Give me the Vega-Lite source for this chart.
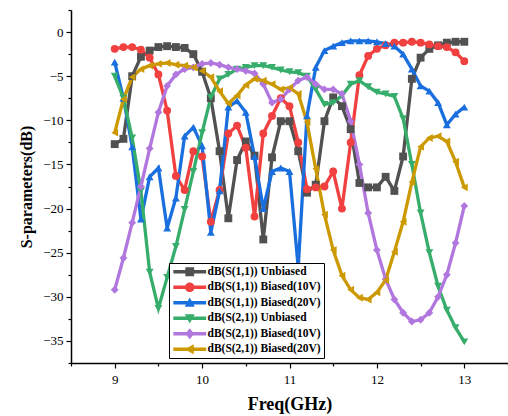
{
  "$schema": "https://vega.github.io/schema/vega-lite/v6.json",
  "width": 437,
  "height": 353,
  "autosize": {"type": "none"},
  "padding": {"left": 71, "top": 10, "right": 0, "bottom": 53},
  "background": "white",
  "config": {
    "view": {"stroke": null},
    "axis": {
      "labelFont": "Liberation Serif",
      "labelFontSize": 13,
      "labelColor": "black",
      "titleFont": "Liberation Serif",
      "titleFontWeight": "bold",
      "titleColor": "black",
      "domainColor": "black",
      "domainWidth": 1.5,
      "tickColor": "black",
      "tickWidth": 1.2,
      "grid": false
    }
  },
  "datasets": {
    "s": [
      {"series":"dB(S(1,1)) Unbiased","f":9.0,"dB":-12.7},{"series":"dB(S(1,1)) Unbiased","f":9.1,"dB":-12.1},{"series":"dB(S(1,1)) Unbiased","f":9.2,"dB":-5.0},{"series":"dB(S(1,1)) Unbiased","f":9.3,"dB":-2.8},{"series":"dB(S(1,1)) Unbiased","f":9.4,"dB":-2.1},{"series":"dB(S(1,1)) Unbiased","f":9.5,"dB":-1.7},{"series":"dB(S(1,1)) Unbiased","f":9.6,"dB":-1.6},{"series":"dB(S(1,1)) Unbiased","f":9.7,"dB":-1.7},{"series":"dB(S(1,1)) Unbiased","f":9.8,"dB":-1.8},{"series":"dB(S(1,1)) Unbiased","f":9.9,"dB":-2.5},
      {"series":"dB(S(1,1)) Unbiased","f":10.0,"dB":-4.5},{"series":"dB(S(1,1)) Unbiased","f":10.1,"dB":-7.5},{"series":"dB(S(1,1)) Unbiased","f":10.2,"dB":-13.5},{"series":"dB(S(1,1)) Unbiased","f":10.3,"dB":-21.1},{"series":"dB(S(1,1)) Unbiased","f":10.4,"dB":-14.5},{"series":"dB(S(1,1)) Unbiased","f":10.5,"dB":-12.4},{"series":"dB(S(1,1)) Unbiased","f":10.6,"dB":-14.0},{"series":"dB(S(1,1)) Unbiased","f":10.7,"dB":-23.5},{"series":"dB(S(1,1)) Unbiased","f":10.8,"dB":-14.2},{"series":"dB(S(1,1)) Unbiased","f":10.9,"dB":-10.1},
      {"series":"dB(S(1,1)) Unbiased","f":11.0,"dB":-10.1},{"series":"dB(S(1,1)) Unbiased","f":11.1,"dB":-13.5},{"series":"dB(S(1,1)) Unbiased","f":11.2,"dB":-18.2},{"series":"dB(S(1,1)) Unbiased","f":11.3,"dB":-17.3},{"series":"dB(S(1,1)) Unbiased","f":11.4,"dB":-10.1},{"series":"dB(S(1,1)) Unbiased","f":11.5,"dB":-7.4},{"series":"dB(S(1,1)) Unbiased","f":11.6,"dB":-8.4},{"series":"dB(S(1,1)) Unbiased","f":11.7,"dB":-11.0},{"series":"dB(S(1,1)) Unbiased","f":11.8,"dB":-17.1},{"series":"dB(S(1,1)) Unbiased","f":11.9,"dB":-17.6},
      {"series":"dB(S(1,1)) Unbiased","f":12.0,"dB":-17.6},{"series":"dB(S(1,1)) Unbiased","f":12.1,"dB":-16.4},{"series":"dB(S(1,1)) Unbiased","f":12.2,"dB":-18.0},{"series":"dB(S(1,1)) Unbiased","f":12.3,"dB":-14.1},{"series":"dB(S(1,1)) Unbiased","f":12.4,"dB":-5.3},{"series":"dB(S(1,1)) Unbiased","f":12.5,"dB":-2.9},{"series":"dB(S(1,1)) Unbiased","f":12.6,"dB":-1.9},{"series":"dB(S(1,1)) Unbiased","f":12.7,"dB":-1.5},{"series":"dB(S(1,1)) Unbiased","f":12.8,"dB":-1.2},{"series":"dB(S(1,1)) Unbiased","f":12.9,"dB":-1.1},{"series":"dB(S(1,1)) Unbiased","f":13.0,"dB":-1.1},

      {"series":"dB(S(1,1)) Biased(10V)","f":9.0,"dB":-1.9},{"series":"dB(S(1,1)) Biased(10V)","f":9.1,"dB":-1.7},{"series":"dB(S(1,1)) Biased(10V)","f":9.2,"dB":-1.7},{"series":"dB(S(1,1)) Biased(10V)","f":9.3,"dB":-2.0},{"series":"dB(S(1,1)) Biased(10V)","f":9.4,"dB":-2.9},{"series":"dB(S(1,1)) Biased(10V)","f":9.5,"dB":-4.8},{"series":"dB(S(1,1)) Biased(10V)","f":9.6,"dB":-8.9},{"series":"dB(S(1,1)) Biased(10V)","f":9.7,"dB":-16.3},{"series":"dB(S(1,1)) Biased(10V)","f":9.8,"dB":-17.9},{"series":"dB(S(1,1)) Biased(10V)","f":9.9,"dB":-13.5},
      {"series":"dB(S(1,1)) Biased(10V)","f":10.0,"dB":-14.1},{"series":"dB(S(1,1)) Biased(10V)","f":10.1,"dB":-21.5},{"series":"dB(S(1,1)) Biased(10V)","f":10.2,"dB":-17.9},{"series":"dB(S(1,1)) Biased(10V)","f":10.3,"dB":-11.5},{"series":"dB(S(1,1)) Biased(10V)","f":10.4,"dB":-10.6},{"series":"dB(S(1,1)) Biased(10V)","f":10.5,"dB":-13.1},{"series":"dB(S(1,1)) Biased(10V)","f":10.6,"dB":-20.9},{"series":"dB(S(1,1)) Biased(10V)","f":10.7,"dB":-11.5},{"series":"dB(S(1,1)) Biased(10V)","f":10.8,"dB":-9.5},{"series":"dB(S(1,1)) Biased(10V)","f":10.9,"dB":-7.5},
      {"series":"dB(S(1,1)) Biased(10V)","f":11.0,"dB":-8.4},{"series":"dB(S(1,1)) Biased(10V)","f":11.1,"dB":-12.5},{"series":"dB(S(1,1)) Biased(10V)","f":11.2,"dB":-17.8},{"series":"dB(S(1,1)) Biased(10V)","f":11.3,"dB":-17.6},{"series":"dB(S(1,1)) Biased(10V)","f":11.4,"dB":-17.5},{"series":"dB(S(1,1)) Biased(10V)","f":11.5,"dB":-15.8},{"series":"dB(S(1,1)) Biased(10V)","f":11.6,"dB":-20.0},{"series":"dB(S(1,1)) Biased(10V)","f":11.7,"dB":-12.5},{"series":"dB(S(1,1)) Biased(10V)","f":11.8,"dB":-4.9},{"series":"dB(S(1,1)) Biased(10V)","f":11.9,"dB":-2.7},
      {"series":"dB(S(1,1)) Biased(10V)","f":12.0,"dB":-1.9},{"series":"dB(S(1,1)) Biased(10V)","f":12.1,"dB":-1.5},{"series":"dB(S(1,1)) Biased(10V)","f":12.2,"dB":-1.2},{"series":"dB(S(1,1)) Biased(10V)","f":12.3,"dB":-1.2},{"series":"dB(S(1,1)) Biased(10V)","f":12.4,"dB":-1.1},{"series":"dB(S(1,1)) Biased(10V)","f":12.5,"dB":-1.2},{"series":"dB(S(1,1)) Biased(10V)","f":12.6,"dB":-1.4},{"series":"dB(S(1,1)) Biased(10V)","f":12.7,"dB":-1.6},{"series":"dB(S(1,1)) Biased(10V)","f":12.8,"dB":-1.7},{"series":"dB(S(1,1)) Biased(10V)","f":12.9,"dB":-2.3},{"series":"dB(S(1,1)) Biased(10V)","f":13.0,"dB":-3.3},

      {"series":"dB(S(1,1)) Biased(20V)","f":9.0,"dB":-3.4},{"series":"dB(S(1,1)) Biased(20V)","f":9.1,"dB":-7.5},{"series":"dB(S(1,1)) Biased(20V)","f":9.2,"dB":-13.0},{"series":"dB(S(1,1)) Biased(20V)","f":9.3,"dB":-21.2},{"series":"dB(S(1,1)) Biased(20V)","f":9.4,"dB":-16.4},{"series":"dB(S(1,1)) Biased(20V)","f":9.5,"dB":-15.4},{"series":"dB(S(1,1)) Biased(20V)","f":9.6,"dB":-22.2},{"series":"dB(S(1,1)) Biased(20V)","f":9.7,"dB":-18.8},{"series":"dB(S(1,1)) Biased(20V)","f":9.8,"dB":-11.8},{"series":"dB(S(1,1)) Biased(20V)","f":9.9,"dB":-10.8},
      {"series":"dB(S(1,1)) Biased(20V)","f":10.0,"dB":-12.9},{"series":"dB(S(1,1)) Biased(20V)","f":10.1,"dB":-22.7},{"series":"dB(S(1,1)) Biased(20V)","f":10.2,"dB":-18.0},{"series":"dB(S(1,1)) Biased(20V)","f":10.3,"dB":-8.5},{"series":"dB(S(1,1)) Biased(20V)","f":10.4,"dB":-7.8},{"series":"dB(S(1,1)) Biased(20V)","f":10.5,"dB":-9.1},{"series":"dB(S(1,1)) Biased(20V)","f":10.6,"dB":-14.1},{"series":"dB(S(1,1)) Biased(20V)","f":10.7,"dB":-20.0},{"series":"dB(S(1,1)) Biased(20V)","f":10.8,"dB":-15.8},{"series":"dB(S(1,1)) Biased(20V)","f":10.9,"dB":-15.4},
      {"series":"dB(S(1,1)) Biased(20V)","f":11.0,"dB":-15.8},{"series":"dB(S(1,1)) Biased(20V)","f":11.1,"dB":-26.7},{"series":"dB(S(1,1)) Biased(20V)","f":11.2,"dB":-9.5},{"series":"dB(S(1,1)) Biased(20V)","f":11.3,"dB":-4.0},{"series":"dB(S(1,1)) Biased(20V)","f":11.4,"dB":-2.1},{"series":"dB(S(1,1)) Biased(20V)","f":11.5,"dB":-1.6},{"series":"dB(S(1,1)) Biased(20V)","f":11.6,"dB":-1.2},{"series":"dB(S(1,1)) Biased(20V)","f":11.7,"dB":-1.0},{"series":"dB(S(1,1)) Biased(20V)","f":11.8,"dB":-1.0},{"series":"dB(S(1,1)) Biased(20V)","f":11.9,"dB":-1.0},
      {"series":"dB(S(1,1)) Biased(20V)","f":12.0,"dB":-1.1},{"series":"dB(S(1,1)) Biased(20V)","f":12.1,"dB":-1.3},{"series":"dB(S(1,1)) Biased(20V)","f":12.2,"dB":-1.6},{"series":"dB(S(1,1)) Biased(20V)","f":12.3,"dB":-2.5},{"series":"dB(S(1,1)) Biased(20V)","f":12.4,"dB":-4.2},{"series":"dB(S(1,1)) Biased(20V)","f":12.5,"dB":-6.1},{"series":"dB(S(1,1)) Biased(20V)","f":12.6,"dB":-6.7},{"series":"dB(S(1,1)) Biased(20V)","f":12.7,"dB":-8.0},{"series":"dB(S(1,1)) Biased(20V)","f":12.8,"dB":-10.5},{"series":"dB(S(1,1)) Biased(20V)","f":12.9,"dB":-9.3},{"series":"dB(S(1,1)) Biased(20V)","f":13.0,"dB":-8.5},

      {"series":"dB(S(2,1)) Unbiased","f":9.0,"dB":-5.0},{"series":"dB(S(2,1)) Unbiased","f":9.1,"dB":-7.5},{"series":"dB(S(2,1)) Unbiased","f":9.2,"dB":-12.0},{"series":"dB(S(2,1)) Unbiased","f":9.3,"dB":-18.0},{"series":"dB(S(2,1)) Unbiased","f":9.4,"dB":-27.2},{"series":"dB(S(2,1)) Unbiased","f":9.5,"dB":-31.3},{"series":"dB(S(2,1)) Unbiased","f":9.6,"dB":-27.8},{"series":"dB(S(2,1)) Unbiased","f":9.7,"dB":-24.3},{"series":"dB(S(2,1)) Unbiased","f":9.8,"dB":-20.1},{"series":"dB(S(2,1)) Unbiased","f":9.9,"dB":-15.8},
      {"series":"dB(S(2,1)) Unbiased","f":10.0,"dB":-11.4},{"series":"dB(S(2,1)) Unbiased","f":10.1,"dB":-7.4},{"series":"dB(S(2,1)) Unbiased","f":10.2,"dB":-5.3},{"series":"dB(S(2,1)) Unbiased","f":10.3,"dB":-4.8},{"series":"dB(S(2,1)) Unbiased","f":10.4,"dB":-4.2},{"series":"dB(S(2,1)) Unbiased","f":10.5,"dB":-4.0},{"series":"dB(S(2,1)) Unbiased","f":10.6,"dB":-3.8},{"series":"dB(S(2,1)) Unbiased","f":10.7,"dB":-3.8},{"series":"dB(S(2,1)) Unbiased","f":10.8,"dB":-4.0},{"series":"dB(S(2,1)) Unbiased","f":10.9,"dB":-4.3},
      {"series":"dB(S(2,1)) Unbiased","f":11.0,"dB":-4.5},{"series":"dB(S(2,1)) Unbiased","f":11.1,"dB":-4.6},{"series":"dB(S(2,1)) Unbiased","f":11.2,"dB":-5.0},{"series":"dB(S(2,1)) Unbiased","f":11.3,"dB":-6.5},{"series":"dB(S(2,1)) Unbiased","f":11.4,"dB":-8.2},{"series":"dB(S(2,1)) Unbiased","f":11.5,"dB":-8.0},{"series":"dB(S(2,1)) Unbiased","f":11.6,"dB":-7.2},{"series":"dB(S(2,1)) Unbiased","f":11.7,"dB":-5.9},{"series":"dB(S(2,1)) Unbiased","f":11.8,"dB":-5.5},{"series":"dB(S(2,1)) Unbiased","f":11.9,"dB":-6.2},
      {"series":"dB(S(2,1)) Unbiased","f":12.0,"dB":-6.8},{"series":"dB(S(2,1)) Unbiased","f":12.1,"dB":-7.0},{"series":"dB(S(2,1)) Unbiased","f":12.2,"dB":-7.3},{"series":"dB(S(2,1)) Unbiased","f":12.3,"dB":-9.8},{"series":"dB(S(2,1)) Unbiased","f":12.4,"dB":-15.0},{"series":"dB(S(2,1)) Unbiased","f":12.5,"dB":-20.5},{"series":"dB(S(2,1)) Unbiased","f":12.6,"dB":-25.0},{"series":"dB(S(2,1)) Unbiased","f":12.7,"dB":-28.8},{"series":"dB(S(2,1)) Unbiased","f":12.8,"dB":-31.5},{"series":"dB(S(2,1)) Unbiased","f":12.9,"dB":-33.5},{"series":"dB(S(2,1)) Unbiased","f":13.0,"dB":-35.1},

      {"series":"dB(S(2,1)) Biased(10V)","f":9.0,"dB":-29.2},{"series":"dB(S(2,1)) Biased(10V)","f":9.1,"dB":-25.6},{"series":"dB(S(2,1)) Biased(10V)","f":9.2,"dB":-21.6},{"series":"dB(S(2,1)) Biased(10V)","f":9.3,"dB":-17.5},{"series":"dB(S(2,1)) Biased(10V)","f":9.4,"dB":-13.2},{"series":"dB(S(2,1)) Biased(10V)","f":9.5,"dB":-9.1},{"series":"dB(S(2,1)) Biased(10V)","f":9.6,"dB":-6.1},{"series":"dB(S(2,1)) Biased(10V)","f":9.7,"dB":-4.8},{"series":"dB(S(2,1)) Biased(10V)","f":9.8,"dB":-4.2},{"series":"dB(S(2,1)) Biased(10V)","f":9.9,"dB":-4.0},
      {"series":"dB(S(2,1)) Biased(10V)","f":10.0,"dB":-3.6},{"series":"dB(S(2,1)) Biased(10V)","f":10.1,"dB":-3.5},{"series":"dB(S(2,1)) Biased(10V)","f":10.2,"dB":-3.7},{"series":"dB(S(2,1)) Biased(10V)","f":10.3,"dB":-4.0},{"series":"dB(S(2,1)) Biased(10V)","f":10.4,"dB":-4.2},{"series":"dB(S(2,1)) Biased(10V)","f":10.5,"dB":-4.4},{"series":"dB(S(2,1)) Biased(10V)","f":10.6,"dB":-4.7},{"series":"dB(S(2,1)) Biased(10V)","f":10.7,"dB":-5.9},{"series":"dB(S(2,1)) Biased(10V)","f":10.8,"dB":-8.0},{"series":"dB(S(2,1)) Biased(10V)","f":10.9,"dB":-7.6},
      {"series":"dB(S(2,1)) Biased(10V)","f":11.0,"dB":-6.5},{"series":"dB(S(2,1)) Biased(10V)","f":11.1,"dB":-5.5},{"series":"dB(S(2,1)) Biased(10V)","f":11.2,"dB":-5.1},{"series":"dB(S(2,1)) Biased(10V)","f":11.3,"dB":-5.9},{"series":"dB(S(2,1)) Biased(10V)","f":11.4,"dB":-6.5},{"series":"dB(S(2,1)) Biased(10V)","f":11.5,"dB":-6.5},{"series":"dB(S(2,1)) Biased(10V)","f":11.6,"dB":-7.0},{"series":"dB(S(2,1)) Biased(10V)","f":11.7,"dB":-10.1},{"series":"dB(S(2,1)) Biased(10V)","f":11.8,"dB":-15.0},{"series":"dB(S(2,1)) Biased(10V)","f":11.9,"dB":-20.5},
      {"series":"dB(S(2,1)) Biased(10V)","f":12.0,"dB":-24.7},{"series":"dB(S(2,1)) Biased(10V)","f":12.1,"dB":-28.0},{"series":"dB(S(2,1)) Biased(10V)","f":12.2,"dB":-30.3},{"series":"dB(S(2,1)) Biased(10V)","f":12.3,"dB":-31.8},{"series":"dB(S(2,1)) Biased(10V)","f":12.4,"dB":-32.8},{"series":"dB(S(2,1)) Biased(10V)","f":12.5,"dB":-32.6},{"series":"dB(S(2,1)) Biased(10V)","f":12.6,"dB":-31.8},{"series":"dB(S(2,1)) Biased(10V)","f":12.7,"dB":-30.0},{"series":"dB(S(2,1)) Biased(10V)","f":12.8,"dB":-27.5},{"series":"dB(S(2,1)) Biased(10V)","f":12.9,"dB":-23.9},{"series":"dB(S(2,1)) Biased(10V)","f":13.0,"dB":-19.7},

      {"series":"dB(S(2,1)) Biased(20V)","f":9.0,"dB":-11.4},{"series":"dB(S(2,1)) Biased(20V)","f":9.1,"dB":-7.6},{"series":"dB(S(2,1)) Biased(20V)","f":9.2,"dB":-5.1},{"series":"dB(S(2,1)) Biased(20V)","f":9.3,"dB":-4.2},{"series":"dB(S(2,1)) Biased(20V)","f":9.4,"dB":-3.8},{"series":"dB(S(2,1)) Biased(20V)","f":9.5,"dB":-3.6},{"series":"dB(S(2,1)) Biased(20V)","f":9.6,"dB":-3.5},{"series":"dB(S(2,1)) Biased(20V)","f":9.7,"dB":-3.7},{"series":"dB(S(2,1)) Biased(20V)","f":9.8,"dB":-3.8},{"series":"dB(S(2,1)) Biased(20V)","f":9.9,"dB":-4.0},
      {"series":"dB(S(2,1)) Biased(20V)","f":10.0,"dB":-4.4},{"series":"dB(S(2,1)) Biased(20V)","f":10.1,"dB":-5.1},{"series":"dB(S(2,1)) Biased(20V)","f":10.2,"dB":-6.7},{"series":"dB(S(2,1)) Biased(20V)","f":10.3,"dB":-8.1},{"series":"dB(S(2,1)) Biased(20V)","f":10.4,"dB":-7.2},{"series":"dB(S(2,1)) Biased(20V)","f":10.5,"dB":-6.0},{"series":"dB(S(2,1)) Biased(20V)","f":10.6,"dB":-5.3},{"series":"dB(S(2,1)) Biased(20V)","f":10.7,"dB":-5.5},{"series":"dB(S(2,1)) Biased(20V)","f":10.8,"dB":-5.9},{"series":"dB(S(2,1)) Biased(20V)","f":10.9,"dB":-6.5},
      {"series":"dB(S(2,1)) Biased(20V)","f":11.0,"dB":-6.3},{"series":"dB(S(2,1)) Biased(20V)","f":11.1,"dB":-7.0},{"series":"dB(S(2,1)) Biased(20V)","f":11.2,"dB":-10.2},{"series":"dB(S(2,1)) Biased(20V)","f":11.3,"dB":-15.5},{"series":"dB(S(2,1)) Biased(20V)","f":11.4,"dB":-20.7},{"series":"dB(S(2,1)) Biased(20V)","f":11.5,"dB":-24.7},{"series":"dB(S(2,1)) Biased(20V)","f":11.6,"dB":-27.6},{"series":"dB(S(2,1)) Biased(20V)","f":11.7,"dB":-29.2},{"series":"dB(S(2,1)) Biased(20V)","f":11.8,"dB":-30.1},{"series":"dB(S(2,1)) Biased(20V)","f":11.9,"dB":-30.3},
      {"series":"dB(S(2,1)) Biased(20V)","f":12.0,"dB":-29.5},{"series":"dB(S(2,1)) Biased(20V)","f":12.1,"dB":-28.1},{"series":"dB(S(2,1)) Biased(20V)","f":12.2,"dB":-24.9},{"series":"dB(S(2,1)) Biased(20V)","f":12.3,"dB":-21.5},{"series":"dB(S(2,1)) Biased(20V)","f":12.4,"dB":-17.0},{"series":"dB(S(2,1)) Biased(20V)","f":12.5,"dB":-13.0},{"series":"dB(S(2,1)) Biased(20V)","f":12.6,"dB":-12.0},{"series":"dB(S(2,1)) Biased(20V)","f":12.7,"dB":-11.8},{"series":"dB(S(2,1)) Biased(20V)","f":12.8,"dB":-12.4},{"series":"dB(S(2,1)) Biased(20V)","f":12.9,"dB":-14.7},{"series":"dB(S(2,1)) Biased(20V)","f":13.0,"dB":-17.6}
    ]
  },
  "data": {"name": "s"},
  "encoding": {
    "x": {
      "field": "f", "type": "quantitative",
      "scale": {"domain": [8.5, 13.5], "nice": false, "zero": false},
      "axis": {
        "title": "Freq(GHz)",
        "titleFontSize": 18,
        "titlePadding": 9,
        "values": [8.5, 9, 9.5, 10, 10.5, 11, 11.5, 12, 12.5, 13, 13.5],
        "labelExpr": "datum.value % 1 === 0 ? format(datum.value, 'd') : ''",
        "tickSize": {"condition": {"test": "datum.value % 1 === 0", "value": 5}, "value": 3},
        "labelPadding": 5
      }
    },
    "y": {
      "field": "dB", "type": "quantitative",
      "scale": {"domain": [-37.5, 2.5], "nice": false, "zero": false},
      "axis": {
        "title": "S-parameters(dB)",
        "titleFontSize": 16,
        "titlePadding": 8,
        "values": [-37.5, -35, -32.5, -30, -27.5, -25, -22.5, -20, -17.5, -15, -12.5, -10, -7.5, -5, -2.5, 0, 2.5],
        "labelExpr": "datum.value % 5 === 0 ? format(datum.value, 'd') : ''",
        "tickSize": {"condition": {"test": "datum.value % 5 === 0", "value": 5}, "value": 3},
        "labelPadding": 3
      }
    }
  },
  "layer": [
    {
      "mark": {"type": "line", "strokeWidth": 3.3},
      "encoding": {
        "color": {
          "field": "series", "type": "nominal", "legend": null,
          "scale": {
            "domain": ["dB(S(1,1)) Unbiased", "dB(S(1,1)) Biased(10V)", "dB(S(1,1)) Biased(20V)", "dB(S(2,1)) Unbiased", "dB(S(2,1)) Biased(10V)", "dB(S(2,1)) Biased(20V)"],
            "range": ["#515151", "#F14040", "#1A6FDF", "#37AD6B", "#B177DE", "#CC9900"]
          }
        }
      }
    },
    {
      "mark": {"type": "point", "filled": true, "size": 62, "opacity": 1},
      "encoding": {
        "color": {"field": "series", "type": "nominal", "legend": null},
        "shape": {
          "field": "series", "type": "nominal", "legend": null,
          "scale": {
            "domain": ["dB(S(1,1)) Unbiased", "dB(S(1,1)) Biased(10V)", "dB(S(1,1)) Biased(20V)", "dB(S(2,1)) Unbiased", "dB(S(2,1)) Biased(10V)", "dB(S(2,1)) Biased(20V)"],
            "range": ["square", "circle", "triangle-up", "triangle-down", "diamond", "triangle-left"]
          }
        }
      }
    },
    {
      "transform": [{"filter": "datum.f > 100"}],
      "mark": {"type": "point", "filled": true, "size": 64, "opacity": 1},
      "encoding": {
        "color": {
          "field": "series", "type": "nominal",
          "legend": {
            "title": null,
            "orient": "none",
            "legendX": 98,
            "legendY": 253,
            "fillColor": "white",
            "strokeColor": "black",
            "padding": 3,
            "symbolSize": 64,
            "symbolOffset": 12,
            "symbolStrokeWidth": 0,
            "labelOffset": 12,
            "labelFont": "Liberation Serif",
            "labelFontWeight": "bold",
            "labelFontSize": 11.5,
            "labelColor": "black",
            "rowPadding": 2.5,
            "labelLimit": 200
          }
        },
        "shape": {
          "field": "series", "type": "nominal",
          "legend": {
            "title": null,
            "orient": "none",
            "legendX": 98,
            "legendY": 253,
            "fillColor": "white",
            "strokeColor": "black",
            "padding": 3,
            "symbolSize": 64,
            "symbolOffset": 12,
            "symbolStrokeWidth": 0,
            "labelOffset": 12,
            "labelFont": "Liberation Serif",
            "labelFontWeight": "bold",
            "labelFontSize": 11.5,
            "labelColor": "black",
            "rowPadding": 2.5,
            "labelLimit": 200
          },
          "scale": {
            "domain": ["dB(S(1,1)) Unbiased", "dB(S(1,1)) Biased(10V)", "dB(S(1,1)) Biased(20V)", "dB(S(2,1)) Unbiased", "dB(S(2,1)) Biased(10V)", "dB(S(2,1)) Biased(20V)"],
            "range": [
              "M-4.1,-0.45H4.1V0.45H-4.1Z M-1.1,-1.1H1.1V1.1H-1.1Z",
              "M-4.1,-0.45H4.1V0.45H-4.1Z M1.2,0A1.2,1.2,0,1,1,-1.2,0A1.2,1.2,0,1,1,1.2,0Z",
              "M-4.1,-0.45H4.1V0.45H-4.1Z M0,-1.3L1.25,1L-1.25,1Z",
              "M-4.1,-0.45H4.1V0.45H-4.1Z M0,1.3L-1.25,-1L1.25,-1Z",
              "M-4.1,-0.45H4.1V0.45H-4.1Z M0,-1.4L1.1,0L0,1.4L-1.1,0Z",
              "M-4.1,-0.45H4.1V0.45H-4.1Z M-1.3,0L1,-1.25L1,1.25Z"
            ]
          }
        }
      }
    }
  ],
  "resolve": {"scale": {"shape": "independent"}, "legend": {"color": "independent", "shape": "independent"}}
}
